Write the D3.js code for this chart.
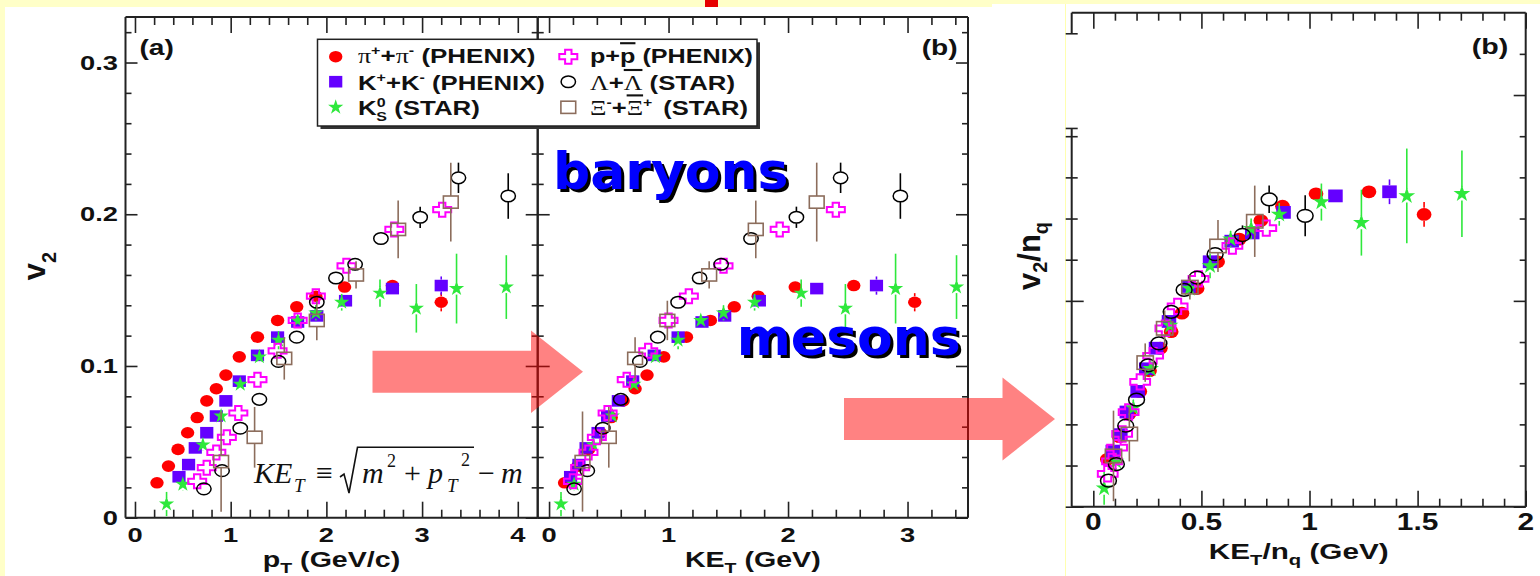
<!DOCTYPE html>
<html>
<head>
<meta charset="utf-8">
<script src="https://cdn.jsdelivr.net/npm/d3@7"></script>
<style>
  body { margin: 0; background: #ffffc8; }
  svg { display: block; }
</style>
</head>
<body>
<svg id="chart" width="1540" height="576"></svg>
<script>
// ---- data ----
// pions (PHENIX)
var piPt  = [0.23, 0.35, 0.45, 0.55, 0.65, 0.75, 0.85, 0.95, 1.09, 1.28, 1.49, 1.69, 1.89, 2.19, 2.69, 3.20];
var piKe  = [0.13, 0.24, 0.33, 0.43, 0.52, 0.62, 0.72, 0.82, 0.96, 1.15, 1.35, 1.55, 1.75, 2.06, 2.55, 3.06];
var piV2  = [0.023, 0.034, 0.045, 0.056, 0.066, 0.077, 0.085, 0.094, 0.106, 0.119, 0.130, 0.139, 0.146, 0.152, 0.153, 0.142];
var piErr = [0.001, 0.001, 0.001, 0.001, 0.001, 0.001, 0.001, 0.001, 0.001, 0.001, 0.002, 0.002, 0.002, 0.002, 0.003, 0.006];
// kaons (PHENIX)
var kPt  = [0.46, 0.56, 0.63, 0.75, 0.85, 0.95, 1.09, 1.28, 1.49, 1.70, 1.90, 2.20, 2.69, 3.20];
var kKe  = [0.18, 0.25, 0.31, 0.41, 0.49, 0.58, 0.70, 0.88, 1.08, 1.28, 1.47, 1.76, 2.24, 2.74];
var kV2  = [0.027, 0.035, 0.046, 0.056, 0.067, 0.077, 0.090, 0.107, 0.119, 0.129, 0.133, 0.143, 0.151, 0.153];
var kErr = [0.001, 0.001, 0.001, 0.001, 0.001, 0.001, 0.001, 0.002, 0.002, 0.002, 0.002, 0.002, 0.003, 0.006];
// K0s (STAR)
var k0Pt  = [0.33, 0.50, 0.71, 0.90, 1.10, 1.30, 1.50, 1.70, 1.89, 2.16, 2.56, 2.94, 3.36, 3.88];
var k0Ke  = [0.10, 0.21, 0.37, 0.53, 0.71, 0.89, 1.08, 1.27, 1.46, 1.72, 2.11, 2.48, 2.90, 3.41];
var k0V2  = [0.009, 0.022, 0.048, 0.067, 0.088, 0.106, 0.117, 0.130, 0.135, 0.142, 0.148, 0.138, 0.151, 0.152];
var k0Err = [0.008, 0.004, 0.004, 0.004, 0.004, 0.004, 0.006, 0.004, 0.005, 0.0055, 0.009, 0.016, 0.023, 0.021];
// protons (PHENIX)
var pPt  = [0.65, 0.75, 0.85, 0.96, 1.08, 1.28, 1.49, 1.70, 1.89, 2.21, 2.71, 3.21];
var pKe  = [0.20, 0.26, 0.33, 0.40, 0.49, 0.65, 0.83, 1.00, 1.17, 1.46, 1.93, 2.40];
var pV2  = [0.024, 0.033, 0.043, 0.053, 0.069, 0.091, 0.110, 0.130, 0.146, 0.166, 0.190, 0.203];
var pErr = [0.002, 0.002, 0.002, 0.002, 0.002, 0.002, 0.002, 0.002, 0.002, 0.003, 0.003, 0.003];
// lambdas (STAR)
var lPt  = [0.72, 0.91, 1.10, 1.30, 1.50, 1.69, 1.90, 2.10, 2.30, 2.57, 2.98, 3.38, 3.90];
var lKe  = [0.21, 0.32, 0.45, 0.60, 0.76, 0.91, 1.08, 1.26, 1.44, 1.69, 2.07, 2.44, 2.94];
var lV2  = [0.019, 0.031, 0.059, 0.078, 0.103, 0.119, 0.142, 0.158, 0.167, 0.184, 0.198, 0.224, 0.212];
var lErr = [0.003, 0.003, 0.003, 0.003, 0.003, 0.003, 0.003, 0.003, 0.004, 0.004, 0.007, 0.010, 0.015];
// cascades (STAR)
var xiPt  = [0.90, 1.25, 1.56, 1.90, 2.31, 2.75, 3.30];
var xiKe  = [0.28, 0.50, 0.72, 0.99, 1.34, 1.73, 2.24];
var xiV2  = [0.037, 0.053, 0.105, 0.130, 0.160, 0.190, 0.208];
var xiErr = [0.033, 0.020, 0.014, 0.013, 0.009, 0.019, 0.026];

// tick labels
var xTicksA = [0, 1, 2, 3, 4];
var xTicksB = [0, 1, 2, 3];
var xTicksC = [0, 0.5, 1, 1.5, 2];
var yTicksA = [0, 0.1, 0.2, 0.3];
var yTicksC = [0, 0.05, 0.1];

var RED = "#ff0000", PURPLE = "#6400ff", GREEN = "#2ee83c",
  MAGENTA = "#ff00ff", BLACK = "#000000", BROWN = "#8c6d5c";

var series = [
  { pt: piPt, ke: piKe, v2: piV2, err: piErr, nq: 2, shape: "dot", color: RED },
  { pt: kPt, ke: kKe, v2: kV2, err: kErr, nq: 2, shape: "square", color: PURPLE },
  { pt: k0Pt, ke: k0Ke, v2: k0V2, err: k0Err, nq: 2, shape: "star", color: GREEN },
  { pt: pPt, ke: pKe, v2: pV2, err: pErr, nq: 3, shape: "cross", color: MAGENTA },
  { pt: lPt, ke: lKe, v2: lV2, err: lErr, nq: 3, shape: "ring", color: BLACK },
  { pt: xiPt, ke: xiKe, v2: xiV2, err: xiErr, nq: 3, shape: "box", color: BROWN }
];

var FONT = "'Liberation Sans', Arial, Helvetica, sans-serif";
var SERIF = "'Liberation Serif', 'Times New Roman', serif";

var svg = d3.select("#chart");

// slide background
svg.append("rect").attr("width", 1540).attr("height", 576).attr("fill", "#ffffc8");
svg.append("rect").attr("x", 5).attr("y", 7).attr("width", 987).attr("height", 569).attr("fill", "#fff");
svg.append("rect").attr("x", 992).attr("y", 4).attr("width", 548).attr("height", 572).attr("fill", "#fff");
svg.append("rect").attr("x", 705).attr("y", 0).attr("width", 13).attr("height", 7).attr("fill", "#e60000");
svg.append("line").attr("x1", 1065.5).attr("x2", 1065.5).attr("y1", 4).attr("y2", 576)
  .attr("stroke", "#ffffb0").attr("stroke-width", 1);

// scales
var xa = d3.scaleLinear().domain([-0.099, 4.208]).range([125.5, 537.7]);
var xb = d3.scaleLinear().domain([-0.095, 3.506]).range([537.7, 968]);
var ya = d3.scaleLinear().domain([0, 0.33]).range([517.7, 17]);
var xc = d3.scaleLinear().domain([-0.1, 2]).range([1071.7, 1525.7]);
var yc = d3.scaleLinear().domain([0, 0.12]).range([506.7, 12.7]);

// text helper: bold sans text inside a horizontally stretched group
function label(parent, x, y, sx, size, anchor, parts) {
  var g = parent.append("g").attr("transform", "translate(" + x + "," + y + ") scale(" + sx + ",1)");
  var t = g.append("text")
    .attr("font-family", FONT).attr("font-weight", "bold")
    .attr("font-size", size).attr("text-anchor", anchor).attr("fill", "#111");
  (typeof parts === "string" ? [{ t: parts }] : parts).forEach(function (p) {
    var s = t.append("tspan").text(p.t);
    if (p.size) s.attr("font-size", p.size);
    if (p.dy) s.attr("dy", p.dy);
    if (p.dx) s.attr("dx", p.dx);
    if (p.serif) s.attr("font-family", SERIF).attr("font-weight", "normal");
    if (p.over) s.style("text-decoration", "overline");
  });
  return { g: g, t: t };
}
function fitWidth(lab, x, y, target) {
  var w = lab.t.node().getBBox().width;
  lab.g.attr("transform", "translate(" + x + "," + y + ") scale(" + (target / w) + ",1)");
}

function minorTicks(n, div) {
  return d3.range(1, n + 1).filter(function (i) { return i % 5; }).map(function (i) { return i / div; });
}

// frame with inward ticks on all four sides
function drawFrame(x, y, o) {
  var g = svg.append("g");
  var xr = x.range(), yr = y.range();
  function ax(gen, vals, size, tr, out) {
    var a = g.append("g").attr("transform", tr)
      .call(gen.tickValues(vals).tickSize(size).tickFormat(""));
    a.select(".domain").remove();
    a.selectAll(".tick line").attr("stroke", "#222").attr("stroke-width", 1.6);
    if (out) a.selectAll(".tick line").attr("x1", -out);
  }
  ax(d3.axisBottom(x), o.xMajor, -16, "translate(0," + yr[0] + ")");
  ax(d3.axisBottom(x), o.xMinor, -8, "translate(0," + yr[0] + ")");
  ax(d3.axisTop(x), o.xMajor, -16, "translate(0," + yr[1] + ")");
  ax(d3.axisTop(x), o.xMinor, -8, "translate(0," + yr[1] + ")");
  var lm = o.yMajor.filter(function (v) { return !(o.leftSkip || []).includes(v); });
  var ln = o.yMinor.filter(function (v) { return !(o.leftSkip || []).includes(v); }).concat(o.leftExtra || []);
  ax(d3.axisLeft(y), lm, -12, "translate(" + xr[0] + ",0)", o.leftOut);
  ax(d3.axisLeft(y), ln, -6, "translate(" + xr[0] + ",0)", o.leftOut);
  ax(d3.axisRight(y), o.yMajor, -12, "translate(" + xr[1] + ",0)");
  ax(d3.axisRight(y), o.yMinor, -6, "translate(" + xr[1] + ",0)");
  var st = function (l) { return l.attr("stroke", "#222").attr("stroke-width", 2).attr("fill", "none"); };
  st(g.append("line").attr("x1", xr[0]).attr("x2", xr[1]).attr("y1", yr[0]).attr("y2", yr[0]));
  st(g.append("line").attr("x1", xr[0]).attr("x2", xr[1]).attr("y1", yr[1]).attr("y2", yr[1]));
  st(g.append("line").attr("x1", xr[1]).attr("x2", xr[1]).attr("y1", yr[0]).attr("y2", yr[1]));
  (o.leftSegs || [[yr[1], yr[0]]]).forEach(function (s) {
    st(g.append("line").attr("x1", xr[0]).attr("x2", xr[0]).attr("y1", s[0]).attr("y2", s[1]));
  });
}

drawFrame(xa, ya, { xMajor: xTicksA, xMinor: minorTicks(20, 5), yMajor: yTicksA, yMinor: minorTicks(16, 50) });
drawFrame(xb, ya, { xMajor: xTicksB, xMinor: minorTicks(17, 5), yMajor: yTicksA, yMinor: minorTicks(16, 50) });
drawFrame(xc, yc, {
  xMajor: xTicksC, xMinor: minorTicks(19, 10), yMajor: yTicksC, yMinor: minorTicks(11, 100),
  leftSkip: [0.1, 0.11], leftExtra: [0.092, 0.115], leftOut: 6,
  leftSegs: [[12.7, yc(0.115)], [yc(0.092), 506.7]]
});

// tick labels
yTicksA.forEach(function (v) { label(svg, 118, ya(v) + 7, 1.3, 21, "end", v === 0 ? "0" : String(v)); });
xTicksA.forEach(function (v) { label(svg, xa(v), 541.5, 1.3, 21, "middle", String(v)); });
xTicksB.forEach(function (v) { label(svg, xb(v), 541.5, 1.3, 21, "middle", String(v)); });
xTicksC.forEach(function (v) { label(svg, xc(v), 530, 1.3, 23, "middle", String(v)); });

// axis titles
label(svg, 331.5, 567, 1.3, 22, "middle", [{ t: "p" }, { t: "T", size: 15, dy: 6 }, { t: " (GeV/c)", dy: -6 }]);
label(svg, 752.8, 567, 1.3, 22, "middle", [{ t: "KE" }, { t: "T", size: 15, dy: 6 }, { t: " (GeV)", dy: -6 }]);
label(svg, 1298.7, 559, 1.35, 22, "middle", [{ t: "KE" }, { t: "T", size: 15, dy: 6 }, { t: "/n", dy: -6 },
  { t: "q", size: 15, dy: 6 }, { t: " (GeV)", dy: -6 }]);

function yTitle(x, y, parts) {
  var t = svg.append("text").attr("transform", "translate(" + x + "," + y + ") rotate(-90)")
    .attr("font-family", FONT).attr("font-weight", "bold").attr("font-size", 31)
    .attr("text-anchor", "middle").attr("fill", "#111");
  parts.forEach(function (p) {
    var s = t.append("tspan").text(p.t);
    if (p.size) s.attr("font-size", p.size);
    if (p.dy) s.attr("dy", p.dy);
  });
}
yTitle(45, 266, [{ t: "v" }, { t: "2", size: 20, dy: 11 }]);
yTitle(1040, 256, [{ t: "v" }, { t: "2", size: 20, dy: 7 }, { t: "/n", dy: -7 }, { t: "q", size: 20, dy: 8 }]);

// panel tags
label(svg, 139.5, 54.5, 1.28, 22, "start", "(a)");
label(svg, 921.7, 54.5, 1.28, 22, "start", "(b)");
label(svg, 1471.7, 53.5, 1.3, 22, "start", "(b)");

// markers
function marker(g, shape, color, s) {
  if (shape === "dot") return g.append("ellipse").attr("rx", 6.7 * s).attr("ry", 5.8 * s).attr("fill", color);
  if (shape === "square") return g.append("rect").attr("x", -6.6 * s).attr("y", -5.8 * s)
    .attr("width", 13.2 * s).attr("height", 11.6 * s).attr("fill", color);
  if (shape === "star") return g.append("path").attr("d", d3.symbol(d3.symbolStar, 72 * s * s)()).attr("fill", color);
  if (shape === "cross") {
    var a = 9 * s, b = 7 * s, tx = 3.2 * s, ty = 2.6 * s;
    return g.append("path").attr("d",
      "M" + (-tx) + "," + (-b) + "H" + tx + "V" + (-ty) + "H" + a + "V" + ty + "H" + tx + "V" + b +
      "H" + (-tx) + "V" + ty + "H" + (-a) + "V" + (-ty) + "H" + (-tx) + "Z")
      .attr("fill", "none").attr("stroke", color).attr("stroke-width", 2);
  }
  if (shape === "ring") return g.append("ellipse").attr("rx", 7.2 * s).attr("ry", 5.8 * s)
    .attr("fill", "none").attr("stroke", color).attr("stroke-width", 1.5);
  if (shape === "box") return g.append("rect").attr("x", -7.4 * s).attr("y", -6.1 * s)
    .attr("width", 14.8 * s).attr("height", 12.2 * s)
    .attr("fill", "none").attr("stroke", color).attr("stroke-width", 1.6);
}

function drawSeries(x, y, getX, getY, getE, s) {
  var layer = svg.append("g");
  series.forEach(function (d) {
    var idx = d3.range(d.v2.length);
    var sg = layer.append("g");
    idx.forEach(function (i) {
      var cx = x(getX(d, i)), cy = y(getY(d, i));
      var e = getE(d, i), top = y(getY(d, i) + e), bot = y(getY(d, i) - e), hh = 6 * s;
      if (cy - top > hh) sg.append("line").attr("x1", cx).attr("x2", cx).attr("y1", top).attr("y2", cy - hh)
        .attr("stroke", d.color).attr("stroke-width", 1.6);
      if (bot - cy > hh) sg.append("line").attr("x1", cx).attr("x2", cx).attr("y1", cy + hh).attr("y2", bot)
        .attr("stroke", d.color).attr("stroke-width", 1.6);
      var mg = sg.append("g").attr("transform", "translate(" + cx + "," + cy + ")");
      marker(mg, d.shape, d.color, s);
    });
  });
}

// (a) v2 vs pT, (b) v2 vs KE_T, (c) scaled by number of constituent quarks
drawSeries(xa, ya, function (d, i) { return d.pt[i]; }, function (d, i) { return d.v2[i]; }, function (d, i) { return d.err[i]; }, 1);
drawSeries(xb, ya, function (d, i) { return d.ke[i]; }, function (d, i) { return d.v2[i]; }, function (d, i) { return d.err[i]; }, 1);
drawSeries(xc, yc, function (d, i) { return d.ke[i] / d.nq; }, function (d, i) { return d.v2[i] / d.nq; },
  function (d, i) { return d.err[i] / d.nq; }, 1.1);

// legend
var lg = svg.append("g");
lg.append("rect").attr("x", 320.5).attr("y", 42.3).attr("width", 439.5).attr("height", 86.7).attr("fill", "#333");
lg.append("rect").attr("x", 317.5).attr("y", 39.3).attr("width", 439.5).attr("height", 86.7)
  .attr("fill", "#fff").attr("stroke", "#222").attr("stroke-width", 1.5);
var rowY = [56.7, 81.7, 107.3], rowBase = [63, 89.5, 115];
var colMark = [335.7, 568.3], colText = [358, 590];
var legendItems = [
  { col: 0, row: 0, s: 0, w: 177.5, parts: [{ t: "\u03c0", serif: true }, { t: "+", size: 13, dy: -8 }, { t: "+", dy: 8 },
    { t: "\u03c0", serif: true }, { t: "-", size: 13, dy: -8 }, { t: " (PHENIX)", dy: 8 }] },
  { col: 0, row: 1, s: 1, w: 187, parts: [{ t: "K" }, { t: "+", size: 13, dy: -8 }, { t: "+K", dy: 8 },
    { t: "-", size: 13, dy: -8 }, { t: " (PHENIX)", dy: 8 }] },
  { col: 0, row: 2, s: 2, w: 122, parts: [{ t: "K" }, { t: "0", size: 13, dy: -8 }, { t: "S", size: 13, dx: -7.5, dy: 14 },
    { t: " (STAR)", dy: -6 }] },
  { col: 1, row: 0, s: 3, w: 163, parts: [{ t: "p+" }, { t: "p", over: true }, { t: " (PHENIX)" }] },
  { col: 1, row: 1, s: 4, w: 145, parts: [{ t: "\u039b", serif: true }, { t: "+" }, { t: "\u039b", serif: true, over: true },
    { t: " (STAR)" }] },
  { col: 1, row: 2, s: 5, w: 158, parts: [{ t: "\u039e", serif: true }, { t: "-", size: 13, dy: -8 }, { t: "+", dy: 8 },
    { t: "\u039e", serif: true, over: true }, { t: "+", size: 13, dy: -8 }, { t: "(STAR)", dx: 9, dy: 8 }] }
];
legendItems.forEach(function (it) {
  var d = series[it.s];
  var mg = lg.append("g").attr("transform", "translate(" + colMark[it.col] + "," + rowY[it.row] + ")");
  marker(mg, d.shape, d.color, 1);
  var lab = label(lg, colText[it.col], rowBase[it.row], 1, 21, "start", it.parts);
  fitWidth(lab, colText[it.col], rowBase[it.row], it.w);
});

// KE_T definition
var fg = svg.append("g").attr("font-family", SERIF).attr("fill", "#111");
function ftxt(x, y, t, size, italic) {
  fg.append("text").attr("x", x).attr("y", y).attr("font-size", size)
    .attr("font-style", italic ? "italic" : "normal").text(t);
}
ftxt(254, 483, "KE", 30, true);
ftxt(294, 492, "T", 19, true);
ftxt(316, 483, "\u2261", 30, false);
fg.append("path").attr("d", "M340,477 L344,474 L349,493 L357.5,447.3 L474,447.3")
  .attr("fill", "none").attr("stroke", "#111").attr("stroke-width", 1.6);
ftxt(362, 483, "m", 30, true);
ftxt(387, 467, "2", 18, false);
ftxt(404, 483, "+", 30, false);
ftxt(428, 483, "p", 30, true);
ftxt(447, 492, "T", 19, true);
ftxt(461, 466, "2", 18, false);
ftxt(478, 483, "\u2212", 30, false);
ftxt(501, 483, "m", 30, true);

// big labels with drop shadow
function bigWord(x, y, t) {
  svg.append("text").attr("x", x + 3).attr("y", y + 3).attr("font-family", "'DejaVu Sans', Verdana, sans-serif")
    .attr("font-weight", "bold").attr("font-size", 52).attr("fill", "#000").text(t);
  svg.append("text").attr("x", x).attr("y", y).attr("font-family", "'DejaVu Sans', Verdana, sans-serif")
    .attr("font-weight", "bold").attr("font-size", 52).attr("fill", "#0000ff").text(t);
}
bigWord(553, 189, "baryons");
bigWord(736.7, 354.5, "mesons");

// translucent arrows
function arrow(x0, x1, x2, cy, bh, hh) {
  svg.append("path")
    .attr("d", "M" + x0 + "," + (cy - bh) + "H" + x1 + "V" + (cy - hh) + "L" + x2 + "," + cy +
      "L" + x1 + "," + (cy + hh) + "V" + (cy + bh) + "H" + x0 + "Z")
    .attr("fill", "#ff0000").attr("fill-opacity", 0.49);
}
arrow(372.5, 531, 583, 371.7, 21, 41.3);
arrow(844, 1002.5, 1055, 419, 21, 41.5);
</script>
</body>
</html>
